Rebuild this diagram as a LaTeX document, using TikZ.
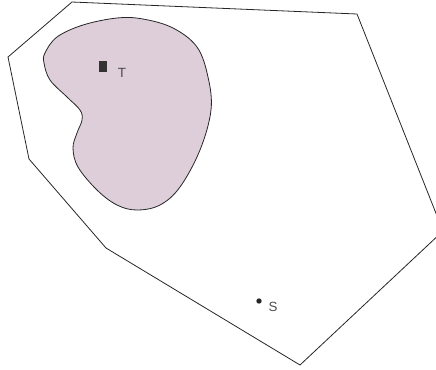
\documentclass[tikz,border=0pt]{standalone}
\usepackage{fontspec}
\setmainfont{Liberation Sans}
\begin{document}
\begin{tikzpicture}[x=0.75pt,y=-0.75pt,
  outline/.style={draw=black!85,line width=0.6pt,line join=round},
  region/.style={draw=black!85,line width=0.6pt,fill={rgb,255:red,221;green,206;blue,218}},
  lbl/.style={text=black!70,font=\fontsize{10}{11}\selectfont,inner sep=0pt}]
\useasboundingbox (0,0) rectangle (436,369);
\clip (0,0) rectangle (436,369);
\draw[outline] (72,2) -- (357,14) -- (443,231) -- (300,365) -- (106,248) -- (29,159) -- (8,57) -- cycle;
\draw[region] plot[smooth cycle,tension=0.6] coordinates {
  (45,53) (57,37) (83,25) (117,18) (143,19) (173,28) (197,47) (208,77)
  (211,110) (200,150) (180,187) (160,205) (137,210) (117,205) (97,190)
  (78,167) (73,148) (77,133) (82,120) (80,110) (67,97) (50,80) (44,63)};
\node[fill=black!80,minimum width=6pt,minimum height=8pt,inner sep=0pt] (t) at (103,66.5) {};
\node[lbl] (tl) at (122,73) {T};
\node[circle,fill=black!85,minimum size=4pt,inner sep=0pt] (s) at (259,301) {};
\node[lbl] (sl) at (273,307) {S};
\end{tikzpicture}
\end{document}
